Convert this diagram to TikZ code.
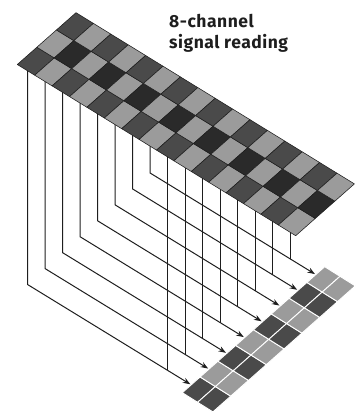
\documentclass[tikz,border=0pt]{standalone}
\usepackage{fontspec}
\setmainfont{Fira Sans}[LetterSpace=3]
\usetikzlibrary{arrows.meta,calc}
\definecolor{c0}{HTML}{4A4A4A}
\definecolor{c1}{HTML}{9B9B9B}
\definecolor{c2}{HTML}{2A2A2A}
\definecolor{cline}{HTML}{1E1E1E}
\begin{document}
\begin{tikzpicture}[x=1pt,y=-1pt,
  cellbox/.style={draw=cline, line width=0.55pt, line join=round},
  stripcell/.style={draw=white, line width=0.9pt},
  wire/.style={draw=cline, line width=1pt},
  arrowwire/.style={wire, -{Stealth[length=7.5pt,width=5.5pt]}, shorten >=1pt},
  title/.style={font=\bfseries\fontsize{17.5}{21}\selectfont, align=left, inner sep=0pt, anchor=north west, text=cline}]
\useasboundingbox (0,0) rectangle (357,416);
% grid geometry
\coordinate (L) at (17.3,64.5);
\coordinate (P) at (182.3,392.7);
% wire end points
\foreach \i in {0,...,15} {
  \pgfmathsetmacro\xx{27.7+17.5*\i}
  \pgfmathsetmacro\yy{64.5+(\xx-17.3)*0.615-4}
  \coordinate (S\i) at (\xx,\yy);
}
\foreach \k in {0,...,7} {
  \pgfmathsetmacro\ax{182.3+17.8*(\k+0.5)}
  \pgfmathsetmacro\ay{392.7-15.75*(\k+0.5)}
  \coordinate (A\k) at (\ax,\ay);
  \pgfmathsetmacro\tx{27.7+17.5*\k}
  \pgfmathsetmacro\ty{\ay-(\ax-\tx)*0.613}
  \coordinate (T\k) at (\tx,\ty);
  \pgfmathsetmacro\jx{\tx+140}
  \pgfmathsetmacro\jy{\ty+140*0.613}
  \coordinate (J\k) at (\jx,\jy);
}
% wires
\foreach \k [evaluate=\k as \m using int(\k+8)] in {0,...,7} {
  \draw[arrowwire] (S\k) -- (T\k) -- (A\k);
  \draw[wire] (S\m) -- (J\k);
}
% top grid
\foreach \i in {0,...,15} {
  \foreach \j in {0,1,2} {
    \pgfmathtruncatemacro\ci{mod(\i,2)+(\j==1)}
    \filldraw[cellbox, fill=c\ci] ($(L)+\i*(17.4,10.7)+\j*(19.57,-17.27)$)
      -- ++(17.4,10.7) -- ++(19.57,-17.27) -- ++(-17.4,-10.7) -- cycle;
  }
}
% output strip
\foreach \k in {0,...,7} {
  \foreach \c in {0,1} {
    \pgfmathtruncatemacro\ci{mod(\k,2)}
    \filldraw[stripcell, fill=c\ci] ($(P)+\k*(17.8,-15.75)+\c*(15.3,9.6)$)
      -- ++(17.8,-15.75) -- ++(15.3,9.6) -- ++(-17.8,15.75) -- cycle;
  }
}
\node[title] (lbl) at (169,13.7) {8-channel\\signal reading};
\end{tikzpicture}
\end{document}
